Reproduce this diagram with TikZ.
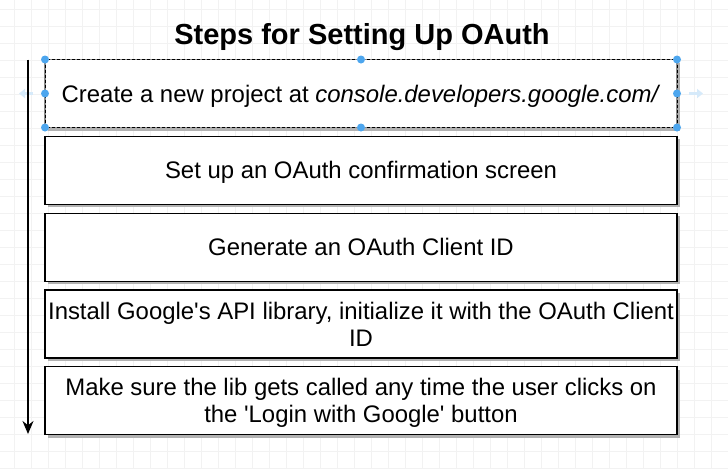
\documentclass[tikz,border=0pt]{standalone}
\usepackage{fontspec}
\setmainfont{Liberation Sans}[Ligatures = TeXOff]
\usetikzlibrary{positioning, shadows, arrows.meta}

\definecolor{handleblue}{HTML}{4DA6EE}
\definecolor{ghostblue}{HTML}{D6EAFA}

\tikzset{
	stepbox/.style = {draw = black, line width = 1.2pt, fill = white,
		minimum width = 632pt, minimum height = 68pt, outer sep = 0pt, inner sep = 1pt,
		align = center, font = \fontsize{23.9}{27}\selectfont, text depth = -5pt,
		drop shadow = {shadow xshift = 3pt, shadow yshift = -3pt, fill = black!30, opacity = 1}},
	handle/.style = {fill = handleblue},
	gridline/.style = {draw = black!5, line width = 0.5pt}
}

\begin{document}
\begin{tikzpicture}[x = 1pt, y = -1pt, node distance = 8.8pt]
		\def\gap{17};
		
		\useasboundingbox (0,0) rectangle (728,469);
		\fill[white] (0,0) rectangle (728,469);
		
		% background grid
		\begin{scope}[shift = {(14pt,-9pt)}]
			\draw[gridline, step = \gap pt] (-14pt,9pt) grid (714pt,-460pt);
		\end{scope}
		
		\node[font = \fontsize{29}{32}\selectfont\bfseries] (title) at (362,37) {Steps for Setting Up OAuth};
		
		\node[stepbox, draw = black!45] (project) at (361,93.5) {Create a new project at \textit{console.developers.google.com/}};
		\node[stepbox, below = of project] (screen) {Set up an OAuth confirmation screen};
		\node[stepbox, below = of screen] (clientid) {Generate an OAuth Client ID};
		\node[stepbox, below = of clientid] (library) {Install Google's API library, initialize it with the OAuth Client\\ID};
		\node[stepbox, below = of library] (login) {Make sure the lib gets called any time the user clicks on\\the 'Login with Google' button};
		
		% selection frame round the first step
		\draw[black, dashed, line width = 0.8pt, dash pattern = on 3pt off 2pt] (project.north west) rectangle (project.south east);
		\foreach \a in {north west, north, north east, west, east, south west, south, south east}
			\fill[handle] (project.\a) circle (4pt);
		\draw[ghostblue, line width = 2.5pt, -{Triangle[length = 6pt, width = 9pt]}] ([xshift = -12pt]project.west) -- ++(-14,0);
		\draw[ghostblue, line width = 2.5pt, -{Triangle[length = 6pt, width = 9pt]}] ([xshift = 12pt]project.east) -- ++(14,0);
		
		% order of the steps
		\coordinate (start) at (28,59.5);
		\coordinate (finish) at (28,434);
		\draw[line width = 1.2pt, -{Stealth[length = 13pt, width = 11pt]}] (start) -- (finish);
	\end{tikzpicture}
\end{document}
